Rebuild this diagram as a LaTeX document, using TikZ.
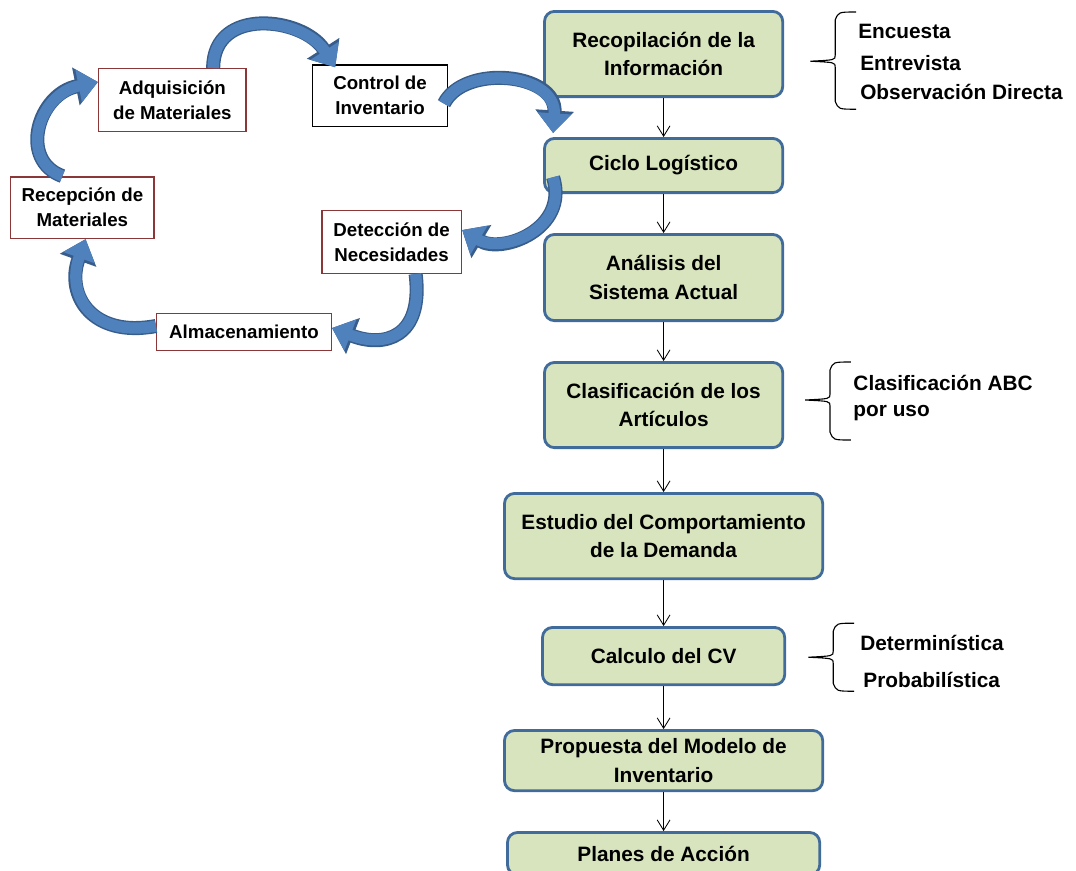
\documentclass[tikz,border=0pt]{standalone}
\usepackage{fontspec}
\setmainfont{Liberation Sans}
\usepackage{tikz}
\usetikzlibrary{arrows.meta, positioning}

\definecolor{verdecaja}{RGB}{215,228,189}
\definecolor{bordecaja}{RGB}{65,107,155}
\definecolor{bordeetapa}{RGB}{140,55,55}
\definecolor{azulciclo}{RGB}{79,129,189}
\definecolor{azulborde}{RGB}{56,93,138}

% llave: x of the vertical stroke, top y, tip y, bottom y
\newcommand{\llave}[4]{%
  \draw[llavetrazo] (#1+0.52,#2) .. controls (#1+0.08,#2) .. (#1,#2-0.2)
    -- (#1,#3+0.15) .. controls (#1,#3+0.03) .. (#1-0.62,#3)
    .. controls (#1,#3-0.03) .. (#1,#3-0.15)
    -- (#1,#4+0.2) .. controls (#1+0.08,#4) .. (#1+0.52,#4);}

\begin{document}
\begin{tikzpicture}[
  node distance=0.975cm,
  paso/.style={rectangle, rounded corners=0.25cm, draw=bordecaja, line width=2pt,
               fill=verdecaja, align=center, minimum width=5.955cm, inner sep=2pt,
               font=\fontsize{14.8}{20.2}\selectfont\bfseries},
  etapa/.style={rectangle, draw=bordeetapa, line width=1pt, fill=white, align=center,
                inner sep=2pt, font=\fontsize{13.3}{17.8}\selectfont\bfseries},
  nota/.style={anchor=west, inner sep=0pt, font=\fontsize{14.8}{20.2}\selectfont\bfseries},
  flecha/.style={-{Straight Barb[length=2.6mm,width=3.2mm]}, line width=0.6pt},
  cicloflecha/.style={line width=8pt, draw=azulciclo, -{Triangle[length=14pt,width=23pt]},
                      preaction={draw=azulborde, line width=10pt,
                                 -{Triangle[length=16pt,width=26.5pt]}}},
  llavetrazo/.style={line width=0.8pt}
]
\useasboundingbox (0,0) rectangle (26.9,-21.75);

% main column
\node[paso, minimum height=2.13cm] (recop) at (16.59,-1.35) {Recopilación de la\\Información};
\node[paso, minimum height=1.355cm, below=of recop] (ciclo) {Ciclo Logístico};
\node[paso, minimum height=2.155cm, below=of ciclo] (analisis) {Análisis del\\Sistema Actual};
\node[paso, minimum height=2.13cm, below=of analisis] (clasif) {Clasificación de los\\Artículos};
\node[paso, minimum height=2.13cm, minimum width=7.955cm, below=1.075cm of clasif] (estudio) {Estudio del Comportamiento\\de la Demanda};
\node[paso, minimum height=1.43cm, minimum width=6.055cm, below=1.15cm of estudio] (calculo) {Calculo del CV};
\node[paso, minimum height=1.505cm, minimum width=7.955cm, below=1.075cm of calculo] (propuesta) {Propuesta del Modelo de\\Inventario};
\node[paso, minimum height=1.06cm, minimum width=7.805cm, below=of propuesta] (planes) {Planes de Acción};

\draw[flecha] (recop) -- (ciclo);
\draw[flecha] (ciclo) -- (analisis);
\draw[flecha] (analisis) -- (clasif);
\draw[flecha] (clasif) -- (estudio);
\draw[flecha] (estudio) -- (calculo);
\draw[flecha] (calculo) -- (propuesta);
\draw[flecha] (propuesta) -- (planes);

% notes on the right
\llave{20.88}{-0.3}{-1.53}{-2.73}
\node[nota] (encuesta) at (21.45,-0.78) {Encuesta};
\node[nota] (entrevista) at (21.5,-1.58) {Entrevista};
\node[nota] (observ) at (21.5,-2.3) {Observación Directa};

\llave{20.75}{-9.05}{-10.0}{-11.0}
\node[nota] (abc) at (21.33,-9.58) {Clasificación ABC};
\node[nota] (uso) at (21.33,-10.33) {por uso};

\llave{20.83}{-15.58}{-16.43}{-17.28}
\node[nota] (determ) at (21.5,-16.08) {Determinística};
\node[nota] (probab) at (21.58,-17.0) {Probabilística};

% logistic cycle
\node[etapa, minimum width=3.69cm, minimum height=1.565cm] (adq) at (4.31,-2.5) {Adquisición\\de Materiales};
\node[etapa, draw=black, minimum width=3.365cm, minimum height=1.54cm] (control) at (9.5,-2.39) {Control de\\Inventario};
\node[etapa, minimum width=3.59cm, minimum height=1.54cm] (recep) at (2.06,-5.19) {Recepción de\\Materiales};
\node[etapa, minimum width=3.49cm, minimum height=1.565cm] (detec) at (9.79,-6.05) {Detección de\\Necesidades};
\node[etapa, minimum width=4.365cm, minimum height=0.915cm] (almac) at (6.1,-8.3) {Almacenamiento};

\draw[cicloflecha] ([xshift=1.02cm]adq.north) .. controls +(0,1.55) and +(-0.8,1.25) .. ([xshift=-1.12cm,yshift=-0.08cm]control.north);
\draw[cicloflecha] ([xshift=-0.1cm,yshift=-0.2cm]control.east) .. controls +(0.5,1.0) and +(0.1,1.5) .. ([xshift=0.25cm,yshift=0.1cm]ciclo.north west);
\draw[cicloflecha] ([xshift=0.25cm,yshift=0.42cm]ciclo.south west) .. controls +(0.4,-1.3) and +(1.0,-0.6) .. ([yshift=0.3cm]detec.east);
\draw[cicloflecha] ([xshift=0.6cm]detec.south) .. controls +(0.2,-1.6) and +(1.3,-0.5) .. ([yshift=0.1cm]almac.east);
\draw[cicloflecha] ([yshift=0.15cm]almac.west) .. controls +(-1.6,-0.3) and +(-0.5,-1.4) .. ([xshift=0.08cm]recep.south);
\draw[cicloflecha] ([xshift=-0.5cm]recep.north) .. controls +(-1.1,0.4) and +(-1.5,-0.3) .. ([yshift=0.45cm]adq.west);

\end{tikzpicture}
\end{document}
